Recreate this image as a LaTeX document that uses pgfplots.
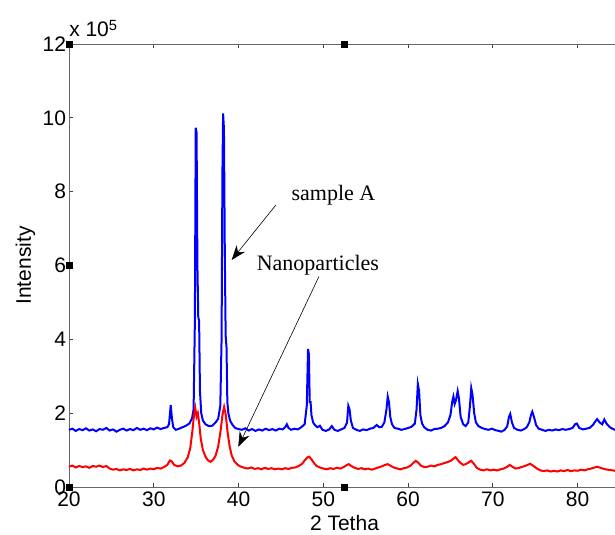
\documentclass[border=0pt]{standalone}
\usepackage{fontspec}
\setmainfont{Liberation Sans}
\newfontfamily\timesfont{Liberation Serif}
\usepackage{pgfplots}
\pgfplotsset{compat=1.18}
\usetikzlibrary{arrows.meta}

\begin{document}
\begin{tikzpicture}
\begin{axis}[
    scale only axis,
    width=413.25pt, height=332.25pt,
    xmin=20, xmax=85,
    ymin=0, ymax=12,
    xtick={20,30,...,80},
    ytick={0,2,...,12},
    tick align=inside,
    major tick length=3pt,
    axis line style={black!60, line width=0.6pt},
    every tick/.style={black!75, line width=0.6pt},
    /pgf/number format/assume math mode=true,
    tick label style={font=\fontsize{15.75}{18}\selectfont},
    yticklabel style={inner sep=2pt},
    label style={font=\fontsize{15.75}{18}\selectfont},
    xlabel={2 Tetha},
    ylabel={Intensity},
    clip=false
]
% sample A
\addplot[color=blue, line width=1.5pt] coordinates {
(20.0,1.55)(20.4,1.58)(20.8,1.52)(21.2,1.57)(21.6,1.54)(22.0,1.59)(22.4,1.53)(22.8,1.56)
(23.2,1.51)(23.6,1.57)(24.0,1.55)(24.4,1.60)(24.8,1.53)(25.2,1.56)(25.6,1.50)(26.0,1.55)
(26.4,1.58)(26.8,1.53)(27.2,1.57)(27.6,1.54)(28.0,1.60)(28.4,1.55)(28.8,1.58)(29.2,1.54)
(29.6,1.59)(30.0,1.56)(30.4,1.61)(30.8,1.57)(31.2,1.60)(31.6,1.62)(31.8,1.70)(32.0,2.22)
(32.15,1.85)(32.3,1.62)(32.6,1.55)(33.0,1.58)(33.4,1.62)(33.8,1.66)(34.2,1.72)(34.5,1.85)
(34.7,2.10)(34.85,4.50)(34.95,9.73)(35.05,9.60)(35.15,6.00)(35.25,4.60)(35.35,4.50)(35.45,2.60)
(35.6,2.00)(35.8,1.80)(36.1,1.70)(36.5,1.65)(36.9,1.66)(37.3,1.75)(37.6,1.85)(37.85,2.20)
(38.0,4.00)(38.1,8.50)(38.18,10.12)(38.28,9.70)(38.38,6.40)(38.48,4.10)(38.58,3.80)(38.68,2.30)
(38.8,2.00)(39.0,1.80)(39.3,1.68)(39.6,1.60)(40.0,1.57)(40.4,1.55)(40.8,1.59)(41.2,1.53)
(41.6,1.57)(42.0,1.52)(42.4,1.56)(42.8,1.53)(43.2,1.58)(43.6,1.54)(44.0,1.57)(44.4,1.53)
(44.8,1.58)(45.2,1.56)(45.5,1.62)(45.7,1.70)(45.9,1.60)(46.2,1.55)(46.6,1.58)(47.0,1.56)
(47.4,1.62)(47.8,1.70)(48.05,2.20)(48.2,3.74)(48.3,3.60)(48.4,2.30)(48.5,2.30)(48.6,1.95)
(48.8,1.75)(49.0,1.68)(49.3,1.62)(49.6,1.66)(49.9,1.55)(50.3,1.52)(50.7,1.56)(51.0,1.65)
(51.3,1.55)(51.7,1.52)(52.1,1.56)(52.5,1.60)(52.8,1.75)(52.95,2.20)(53.1,2.10)(53.25,1.80)
(53.5,1.60)(53.9,1.55)(54.3,1.52)(54.7,1.56)(55.1,1.54)(55.5,1.58)(55.9,1.60)(56.3,1.68)
(56.6,1.62)(56.9,1.63)(57.2,1.75)(57.45,2.10)(57.6,2.45)(57.75,2.30)(57.9,1.90)(58.1,1.70)
(58.4,1.60)(58.8,1.58)(59.2,1.55)(59.6,1.57)(60.0,1.60)(60.4,1.63)(60.8,1.72)(61.0,2.10)
(61.15,2.79)(61.3,2.60)(61.45,1.95)(61.65,1.72)(61.9,1.62)(62.3,1.55)(62.7,1.53)(63.1,1.57)
(63.5,1.58)(63.9,1.60)(64.3,1.65)(64.7,1.75)(65.0,1.95)(65.2,2.30)(65.35,2.45)(65.5,2.25)
(65.65,2.35)(65.85,2.60)(66.0,2.40)(66.2,1.90)(66.5,1.70)(66.8,1.65)(67.1,1.75)(67.3,2.20)
(67.45,2.68)(67.6,2.50)(67.8,2.00)(68.0,1.75)(68.3,1.65)(68.7,1.60)(69.1,1.57)(69.5,1.55)
(69.9,1.58)(70.3,1.54)(70.7,1.52)(71.0,1.50)(71.4,1.55)(71.7,1.65)(71.9,1.90)(72.05,1.98)
(72.25,1.75)(72.5,1.60)(72.9,1.55)(73.3,1.53)(73.7,1.57)(74.0,1.62)(74.3,1.75)(74.5,1.95)
(74.65,2.04)(74.85,1.90)(75.1,1.68)(75.4,1.58)(75.8,1.55)(76.2,1.52)(76.6,1.55)(77.0,1.53)
(77.4,1.56)(77.8,1.54)(78.2,1.57)(78.6,1.55)(79.0,1.57)(79.4,1.60)(79.7,1.70)(79.9,1.72)
(80.2,1.60)(80.6,1.56)(81.0,1.58)(81.4,1.60)(81.8,1.68)(82.1,1.78)(82.3,1.84)(82.6,1.75)
(82.9,1.70)(83.15,1.83)(83.4,1.72)(83.8,1.62)(84.1,1.58)(84.4,1.55)(84.7,1.56)(85.0,1.54)
};
% nanoparticles
\addplot[color=red, line width=1.5pt] coordinates {
(20.0,0.55)(20.4,0.58)(20.8,0.53)(21.2,0.57)(21.6,0.54)(22.0,0.56)(22.4,0.52)(22.8,0.57)
(23.2,0.55)(23.6,0.58)(24.0,0.54)(24.4,0.57)(24.8,0.50)(25.2,0.47)(25.6,0.49)(26.0,0.45)
(26.4,0.48)(26.8,0.46)(27.2,0.49)(27.6,0.45)(28.0,0.48)(28.4,0.46)(28.8,0.50)(29.2,0.47)
(29.6,0.50)(30.0,0.48)(30.4,0.52)(30.8,0.50)(31.2,0.54)(31.6,0.60)(31.9,0.72)(32.1,0.70)
(32.4,0.60)(32.8,0.56)(33.2,0.58)(33.6,0.65)(34.0,0.80)(34.3,1.05)(34.55,1.50)(34.75,1.95)
(34.9,2.14)(35.05,1.90)(35.2,2.00)(35.35,1.75)(35.55,1.30)(35.8,1.00)(36.1,0.82)(36.4,0.72)
(36.7,0.68)(37.0,0.74)(37.3,0.85)(37.6,1.10)(37.9,1.55)(38.1,1.95)(38.3,2.17)(38.5,1.95)
(38.7,1.50)(38.95,1.10)(39.2,0.85)(39.5,0.70)(39.9,0.60)(40.3,0.55)(40.7,0.52)(41.1,0.50)
(41.5,0.53)(41.9,0.49)(42.3,0.51)(42.7,0.48)(43.1,0.52)(43.5,0.49)(43.9,0.51)(44.3,0.48)
(44.7,0.50)(45.1,0.48)(45.5,0.51)(45.9,0.49)(46.3,0.52)(46.7,0.53)(47.1,0.57)(47.5,0.63)
(47.8,0.72)(48.1,0.80)(48.35,0.82)(48.6,0.75)(48.9,0.65)(49.2,0.57)(49.6,0.53)(50.0,0.50)
(50.4,0.48)(50.8,0.51)(51.2,0.49)(51.6,0.52)(52.0,0.50)(52.4,0.54)(52.8,0.60)(53.0,0.62)
(53.3,0.57)(53.7,0.52)(54.1,0.49)(54.5,0.51)(54.9,0.48)(55.3,0.50)(55.7,0.47)(56.1,0.50)
(56.5,0.53)(56.9,0.56)(57.3,0.60)(57.6,0.62)(57.9,0.58)(58.3,0.53)(58.7,0.50)(59.1,0.48)
(59.5,0.51)(59.9,0.53)(60.3,0.58)(60.6,0.65)(60.9,0.71)(61.2,0.66)(61.5,0.58)(61.9,0.54)
(62.3,0.55)(62.7,0.58)(63.1,0.56)(63.5,0.60)(63.9,0.62)(64.3,0.65)(64.7,0.68)(65.1,0.72)
(65.4,0.78)(65.6,0.81)(65.9,0.72)(66.2,0.65)(66.5,0.60)(66.8,0.62)(67.1,0.66)(67.45,0.71)
(67.8,0.62)(68.1,0.52)(68.5,0.47)(68.9,0.45)(69.3,0.48)(69.7,0.45)(70.1,0.47)(70.5,0.45)
(70.9,0.48)(71.3,0.50)(71.7,0.55)(72.0,0.60)(72.3,0.55)(72.7,0.50)(73.1,0.52)(73.5,0.55)
(73.9,0.58)(74.4,0.63)(74.8,0.57)(75.2,0.50)(75.6,0.45)(76.0,0.43)(76.4,0.45)(76.8,0.42)
(77.2,0.44)(77.6,0.42)(78.0,0.45)(78.4,0.43)(78.8,0.46)(79.2,0.43)(79.6,0.45)(80.0,0.44)
(80.4,0.47)(80.8,0.45)(81.2,0.48)(81.6,0.50)(82.0,0.53)(82.3,0.55)(82.7,0.52)(83.1,0.49)
(83.5,0.47)(83.9,0.46)(84.4,0.44)(84.7,0.45)(85.0,0.44)
};
% selection handles
\addplot[only marks, mark=square*, mark size=2.3pt, black] coordinates {
(20,12)(52.5,12)(20,6)(20,0)(52.5,0)};
\node[anchor=base west, inner sep=0pt, yshift=5.25pt,
      font=\fontsize{15.75}{18}\selectfont] at (rel axis cs:0,1) {x 10\textsuperscript{5}};
\node[anchor=base, inner sep=0pt, font=\timesfont\fontsize{16.5}{19}\selectfont]
      at (axis cs:51.2,7.76) {sample A};
\node[anchor=base, inner sep=0pt, font=\timesfont\fontsize{16.5}{19}\selectfont]
      at (axis cs:49.36,5.86) {Nanoparticles};
\draw[-{Stealth[length=11pt,width=8pt]}, line width=0.45pt]
      (axis cs:44.41,7.64) -- (axis cs:39.19,6.15);
\draw[-{Stealth[length=11pt,width=8pt]}, line width=0.45pt]
      (axis cs:49.48,5.70) -- (axis cs:39.97,1.09);
\coordinate (bbA) at (rel axis cs:-0.1252,-0.1061);
\coordinate (bbB) at (rel axis cs:0.9909,1.0993);
\end{axis}
\pgfresetboundingbox
\path (bbA) rectangle (bbB);
\end{tikzpicture}
\end{document}
